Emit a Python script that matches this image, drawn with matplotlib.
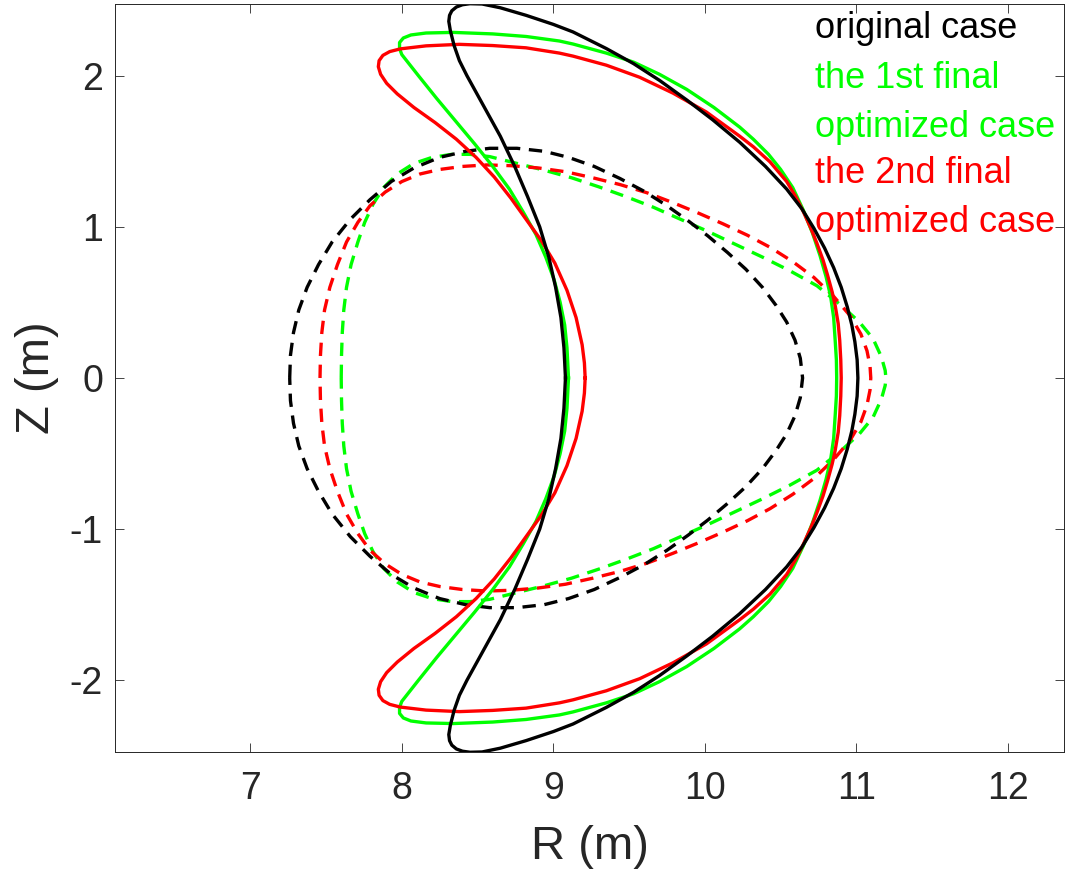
import matplotlib

matplotlib.use("Agg")
import matplotlib.pyplot as plt

# upper halves (Z >= 0) of each boundary; lower half is the mirror image
ORIG_SOLID_R = [9.08, 9.07, 9.05, 9.015, 8.97, 8.91, 8.83, 8.745, 8.65, 8.54, 8.43, 8.38, 8.345, 8.32,
                8.31, 8.315, 8.33, 8.36, 8.40, 8.45, 8.53, 8.65, 8.82, 9.00, 9.13, 9.35, 9.53, 9.70, 9.88,
                10.05, 10.23, 10.40, 10.54, 10.64, 10.72, 10.79, 10.85, 10.90, 10.94, 10.97, 10.99, 11.005,
                11.01]
ORIG_SOLID_Z = [0.00, 0.20, 0.40, 0.60, 0.80, 1.00, 1.20, 1.40, 1.60, 1.80, 2.00, 2.10, 2.20, 2.30,
                2.36, 2.40, 2.43, 2.455, 2.47, 2.477, 2.475, 2.45, 2.40, 2.34, 2.29, 2.18, 2.08, 1.97, 1.84,
                1.71, 1.56, 1.40, 1.25, 1.12, 0.99, 0.86, 0.73, 0.60, 0.47, 0.35, 0.24, 0.12,
                0.00]

OPT1_SOLID_R = [9.10, 9.09, 9.075, 9.045, 9.005, 8.95, 8.885, 8.80, 8.71, 8.60, 8.48, 8.355, 8.23, 8.11,
                8.00, 7.985, 7.985, 8.01, 8.06, 8.16, 8.34, 8.60, 8.82, 9.04, 9.13, 9.35, 9.53, 9.70, 9.88,
                10.06, 10.23, 10.32, 10.42, 10.50, 10.58, 10.65, 10.71, 10.76, 10.80, 10.83, 10.85, 10.86,
                10.868, 10.87]
OPT1_SOLID_Z = [0.00, 0.20, 0.35, 0.50, 0.65, 0.80, 0.95, 1.10, 1.25, 1.40, 1.55, 1.70, 1.85, 2.00,
                2.14, 2.18, 2.22, 2.25, 2.27, 2.283, 2.287, 2.277, 2.26, 2.23, 2.21, 2.15, 2.09, 2.01, 1.91,
                1.79, 1.66, 1.58, 1.48, 1.38, 1.26, 1.11, 0.96, 0.81, 0.67, 0.54, 0.40, 0.25,
                0.12, 0.00]

OPT2_SOLID_R = [9.21, 9.205, 9.19, 9.15, 9.09, 9.01, 8.92, 8.82, 8.72, 8.61, 8.49, 8.36, 8.22, 8.08,
                7.97, 7.90, 7.86, 7.845, 7.85, 7.875, 7.92, 7.99, 8.16, 8.38, 8.60, 8.82, 9.04, 9.13, 9.35,
                9.57, 9.79, 10.01, 10.23, 10.32, 10.43, 10.54, 10.60, 10.65, 10.70, 10.74, 10.78, 10.81,
                10.84, 10.86, 10.88, 10.89, 10.897, 10.90]
OPT2_SOLID_Z = [0.00, 0.10, 0.22, 0.40, 0.58, 0.76, 0.91, 1.05, 1.19, 1.33, 1.46, 1.58, 1.69, 1.79,
                1.88, 1.95, 2.01, 2.06, 2.10, 2.135, 2.16, 2.178, 2.198, 2.208, 2.20, 2.185, 2.15, 2.13, 2.07,
                1.99, 1.885, 1.76, 1.60, 1.53, 1.43, 1.30, 1.20, 1.10, 0.99, 0.89, 0.78, 0.68,
                0.57, 0.48, 0.36, 0.25, 0.12, 0.00]

ORIG_DASH_R = [7.26, 7.265, 7.285, 7.32, 7.375, 7.45, 7.54, 7.66, 7.79, 7.93, 8.08, 8.25, 8.42, 8.58,
               8.76, 8.94, 9.10, 9.27, 9.44, 9.60, 9.75, 9.89, 10.02, 10.15, 10.27, 10.38, 10.47, 10.54,
               10.595, 10.63, 10.645]
ORIG_DASH_Z = [0.00, 0.15, 0.30, 0.45, 0.60, 0.75, 0.90, 1.05, 1.18, 1.30, 1.39, 1.46, 1.50, 1.52,
               1.52, 1.50, 1.46, 1.40, 1.32, 1.235, 1.14, 1.04, 0.94, 0.83, 0.72, 0.60, 0.48, 0.37,
               0.25, 0.13, 0.00]

OPT1_DASH_R = [7.60, 7.602, 7.607, 7.617, 7.635, 7.665, 7.71, 7.755, 7.81, 7.88, 7.97, 8.08, 8.20, 8.33,
               8.45, 8.58, 8.76, 8.94, 9.12, 9.30, 9.48, 9.66, 9.84, 10.02, 10.20, 10.38, 10.56, 10.74,
               10.90, 11.02, 11.11, 11.165, 11.19, 11.195]
OPT1_DASH_Z = [0.00, 0.15, 0.30, 0.45, 0.60, 0.75, 0.90, 1.03, 1.15, 1.26, 1.35, 1.42, 1.46, 1.48,
               1.48, 1.465, 1.42, 1.375, 1.325, 1.265, 1.20, 1.13, 1.05, 0.97, 0.885, 0.80, 0.71, 0.61,
               0.48, 0.37, 0.26, 0.14, 0.05, 0.00]

OPT2_DASH_R = [7.46, 7.463, 7.472, 7.49, 7.525, 7.575, 7.635, 7.71, 7.79, 7.89, 8.00, 8.12, 8.25, 8.40,
               8.56, 8.72, 8.90, 9.08, 9.26, 9.44, 9.62, 9.79, 9.96, 10.12, 10.28, 10.43, 10.58, 10.72,
               10.85, 10.96, 11.03, 11.07, 11.09, 11.095]
OPT2_DASH_Z = [0.00, 0.15, 0.30, 0.45, 0.60, 0.75, 0.90, 1.03, 1.14, 1.23, 1.30, 1.35, 1.38, 1.40,
               1.41, 1.405, 1.39, 1.365, 1.325, 1.28, 1.225, 1.16, 1.09, 1.02, 0.945, 0.865, 0.77, 0.665,
               0.54, 0.41, 0.29, 0.18, 0.08, 0.00]

LEGEND_LINES = ["original case", "the 1st final", "optimized case", "the 2nd final", "optimized case"]
LEGEND_COLORS = ["#000000", "#00ff00", "#00ff00", "#ff0000", "#ff0000"]

X_TICKS = [7, 8, 9, 10, 11, 12]
Y_TICKS = [-2, -1, 0, 1, 2]

GREEN = "#00ff00"
RED = "#ff0000"
BLACK = "#000000"
AXIS_GRAY = "#262626"


def closed_curve(r_upper, z_upper):
    # upper half runs from one Z=0 crossing to the other; append its mirror back to the start
    r_full = list(r_upper) + list(reversed(r_upper))
    z_full = list(z_upper) + [-z for z in reversed(z_upper)]
    return r_full, z_full


def main() -> None:
    plt.rcParams["font.family"] = ["Liberation Sans", "DejaVu Sans"]
    plt.rcParams["axes.unicode_minus"] = False

    fig = plt.figure(figsize=(10.72, 8.88), dpi=100)
    ax = fig.add_axes([0.1077, 0.1532, 0.8848, 0.8423])

    lw = 2.4
    dash = (4.0, 2.6)
    curves = [
        (OPT1_DASH_R, OPT1_DASH_Z, GREEN, True),
        (OPT2_DASH_R, OPT2_DASH_Z, RED, True),
        (ORIG_DASH_R, ORIG_DASH_Z, BLACK, True),
        (OPT1_SOLID_R, OPT1_SOLID_Z, GREEN, False),
        (OPT2_SOLID_R, OPT2_SOLID_Z, RED, False),
        (ORIG_SOLID_R, ORIG_SOLID_Z, BLACK, False),
    ]
    for r_up, z_up, color, dashed in curves:
        r, z = closed_curve(r_up, z_up)
        (line,) = ax.plot(r, z, color=color, linewidth=lw, solid_joinstyle="round")
        if dashed:
            line.set_dashes(dash)

    ax.set_xlim(6.11, 12.37)
    ax.set_ylim(-2.475, 2.475)
    ax.set_xticks(X_TICKS)
    ax.set_yticks(Y_TICKS)
    ax.set_xticklabels([str(t) for t in X_TICKS])
    ax.set_yticklabels([str(t) for t in Y_TICKS])
    ax.tick_params(direction="in", top=True, right=True, length=6.5, width=0.6,
                   color=AXIS_GRAY, labelcolor=AXIS_GRAY, labelsize=27)
    ax.tick_params(axis="x", pad=14)
    ax.tick_params(axis="y", pad=9)
    for spine in ax.spines.values():
        spine.set_color(AXIS_GRAY)
        spine.set_linewidth(0.7)

    ax.set_xlabel("R (m)", fontsize=34, color=AXIS_GRAY, labelpad=13)
    ax.set_ylabel("Z (m)", fontsize=34, color=AXIS_GRAY, labelpad=8)

    baselines = [0.9545, 0.8877, 0.8222, 0.7607, 0.6952]
    for text, color, y in zip(LEGEND_LINES, LEGEND_COLORS, baselines):
        ax.text(0.7375, y, text, color=color, fontsize=26, transform=ax.transAxes,
                ha="left", va="baseline")

    fig.savefig("out.png", dpi=100)
    plt.close(fig)


if __name__ == "__main__":
    main()
